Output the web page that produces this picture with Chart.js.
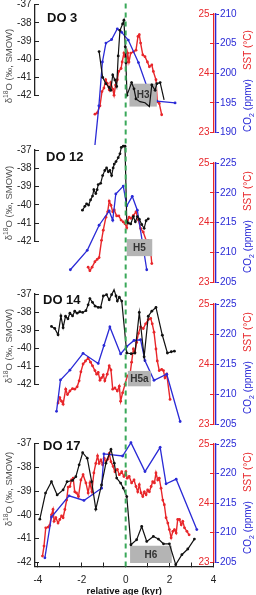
<!DOCTYPE html>
<html>
<head>
<meta charset="UTF-8" />
<title>DO events - d18O, SST, CO2</title>
<script src="https://cdn.jsdelivr.net/npm/chart.js@4.4.9/dist/chart.umd.min.js"></script>
<style>
    body { margin: 0; background: #fff; }
    #wrap { position: relative; width: 256px; height: 595px; overflow: hidden;
            font-family: 'Liberation Sans', Arial, sans-serif; }
    #wrap canvas { position: absolute; left: 0; top: 0; }
    .do { position: absolute; font-size: 13px; font-weight: bold; line-height: 13px; color: #111; }
    .vt { position: absolute; white-space: nowrap; line-height: 1;
          transform: translate(-50%, -50%) rotate(-90deg); }
    .vt sub, .vt sup { font-size: 70%; line-height: 0; }
</style>
</head>
<body>
<div id="wrap"></div>
<script>
    // ---- data (age in kyr relative to DO onset) ----
    const panelNames = ['DO 3', 'DO 12', 'DO 14', 'DO 17'];
    const heinrichLabels = ['H3', 'H5', 'H5a', 'H6'];
    const boxStart = [0.17, 0.05, 0.10, 0.20];
    const boxEnd = [1.42, 1.21, 1.15, 2.10];
    const boxTop = [-41.35, -41.87, -41.25, -41.30];
    const boxBottom = [-42.61, -42.80, -42.10, -42.03];

    const ageTicks = [-4, -3, -2, -1, 0, 1, 2, 3, 4];
    const o18Ticks = [-42, -41, -40, -39, -38, -37];
    const sstTicks = [23, 23.5, 24, 24.5, 25];
    const co2Lo = [190, 205, 205, 205];
    const co2Hi = [210, 225, 225, 225];

    // DO 3
    const ageO18_3 = [-1.21, -1.05, -0.90, -0.75, -0.68, -0.59, -0.49, -0.41, -0.34, -0.26, -0.14, -0.08, -0.02, 0.01, 0.06, 0.27, 0.38, 0.47, 0.65, 0.88, 1.08, 1.19, 1.34, 1.42, 1.57, 1.75];
    const o18_3 = [-39.58, -41.00, -41.35, -41.56, -41.71, -40.87, -41.14, -41.50, -39.82, -38.41, -38.06, -37.85, -39.32, -40.20, -41.98, -41.29, -41.63, -42.19, -42.34, -42.40, -42.61, -41.42, -41.71, -41.35, -41.29, -42.24];
    const ageSst3 = [-1.40, -1.30, -1.17, -1.08, -0.99, -0.91, -0.84, -0.75, -0.68, -0.59, -0.53, -0.46, -0.38, -0.32, -0.21, -0.16, -0.08, -0.02, 0.05, 0.09, 0.15, 0.23, 0.35, 0.47, 0.56, 0.62, 0.68, 0.78, 0.88, 0.99, 1.08, 1.19, 1.26, 1.38, 1.44, 1.53, 1.64];
    const sst3 = [23.31, 23.33, 23.45, 23.69, 23.75, 23.89, 23.83, 23.72, 23.84, 23.73, 23.63, 23.80, 23.89, 24.03, 24.08, 24.19, 24.34, 24.28, 24.19, 24.34, 24.19, 24.34, 24.36, 24.39, 24.62, 24.65, 24.51, 24.31, 24.28, 24.19, 24.11, 24.14, 24.03, 23.89, 23.52, 23.49, 23.30];
    const ageCo2_3 = [-1.40, -1.22, -1.06, -0.90, -0.64, -0.38, -0.18, 0.12, 0.58, 0.99, 1.42, 2.25];
    const co2_3 = [187.9, 194.5, 201.9, 205.1, 205.7, 207.5, 206.9, 205.6, 201.8, 197.5, 195.3, 195.0];

    // DO 12
    const ageO18_12 = [-1.97, -1.86, -1.78, -1.69, -1.60, -1.51, -1.45, -1.36, -1.30, -1.25, -1.14, -1.05, -0.95, -0.87, -0.79, -0.72, -0.64, -0.57, -0.52, -0.44, -0.34, -0.26, -0.20, -0.11, -0.03, 0.05, 0.12, 0.23, 0.35, 0.44, 0.53, 0.62, 0.73, 0.84, 0.93, 1.03];
    const o18_12 = [-40.29, -40.08, -39.94, -40.01, -39.73, -39.52, -39.17, -39.38, -39.17, -38.89, -38.82, -38.40, -38.12, -37.98, -38.19, -38.12, -38.40, -37.98, -37.77, -37.63, -37.42, -37.21, -36.86, -36.79, -36.79, -40.92, -40.99, -41.04, -40.64, -40.92, -40.64, -40.78, -41.07, -41.28, -40.86, -40.76];
    const ageSst12 = [-1.71, -1.63, -1.53, -1.40, -1.30, -1.21, -1.10, -1.02, -0.90, -0.82, -0.75, -0.67, -0.59, -0.52, -0.41, -0.31, -0.21, -0.11, -0.03, 0.05, 0.09, 0.16, 0.24, 0.35, 0.47, 0.58, 0.68, 0.80, 0.93, 1.03, 1.11, 1.19];
    const sst12 = [23.25, 23.19, 23.25, 23.34, 23.38, 23.41, 23.70, 23.87, 24.09, 24.18, 24.36, 24.29, 24.18, 24.21, 24.11, 24.11, 24.04, 24.01, 23.98, 23.91, 24.04, 24.09, 24.07, 24.12, 24.18, 24.04, 23.90, 23.84, 23.70, 23.70, 23.63, 23.31];
    const ageCo2_12 = [-2.52, -1.75, -1.21, -0.75, -0.59, -0.45, -0.11, 0.05, 0.30, 0.53, 0.96];
    const co2_12 = [207.06, 210.32, 214.54, 216.95, 215.38, 219.8, 221.12, 217.8, 219.4, 217.07, 207.06];

    // DO 14
    const ageO18_14 = [-3.38, -3.23, -3.08, -2.95, -2.85, -2.74, -2.63, -2.54, -2.42, -2.32, -2.21, -2.09, -1.96, -1.81, -1.71, -1.63, -1.51, -1.39, -1.25, -1.14, -1.02, -0.87, -0.75, -0.64, -0.53, -0.44, -0.38, -0.29, -0.18, 0.05, 0.25, 0.42, 0.62, 0.84, 1.03, 1.19, 1.38, 1.67, 1.90, 2.08, 2.22];
    const o18_14 = [-38.79, -38.90, -39.25, -38.21, -38.86, -38.23, -38.37, -38.06, -38.21, -37.95, -38.06, -37.98, -38.02, -37.92, -37.60, -37.25, -37.46, -37.67, -37.74, -37.74, -37.11, -37.04, -37.32, -37.04, -36.76, -37.11, -37.39, -37.18, -37.39, -40.26, -40.30, -40.26, -38.02, -40.47, -38.23, -37.95, -37.74, -39.28, -40.26, -40.19, -40.16];
    const ageSst14 = [-3.08, -3.00, -2.92, -2.85, -2.73, -2.65, -2.54, -2.42, -2.32, -2.21, -2.12, -2.04, -1.94, -1.83, -1.71, -1.60, -1.51, -1.40, -1.32, -1.25, -1.17, -1.10, -1.02, -0.95, -0.84, -0.75, -0.67, -0.59, -0.49, -0.38, -0.29, -0.23, -0.14, -0.03, 0.07, 0.20, 0.27, 0.35, 0.42, 0.50, 0.58, 0.68, 0.80, 0.91, 1.03, 1.14, 1.21, 1.29, 1.38, 1.44, 1.53, 1.64, 1.72, 1.79, 1.87, 2.02];
    const sst14 = [23.35, 23.44, 23.38, 23.33, 23.58, 23.49, 23.55, 23.59, 23.58, 23.62, 23.72, 23.87, 24.00, 24.05, 24.10, 24.03, 23.97, 23.89, 23.83, 23.86, 23.73, 23.77, 23.82, 23.72, 23.83, 23.97, 23.90, 23.58, 23.60, 23.55, 23.63, 23.38, 23.52, 23.66, 23.80, 23.83, 24.03, 24.25, 24.19, 24.36, 24.51, 24.62, 24.59, 24.67, 24.74, 24.76, 24.67, 24.53, 24.25, 24.05, 23.89, 23.91, 23.89, 23.77, 23.83, 23.41];
    const ageCo2_14 = [-3.15, -2.97, -2.54, -1.94, -1.25, -0.99, -0.72, -0.23, 0.05, 0.38, 0.68, 0.88, 1.29, 1.87, 2.48];
    const co2_14 = [207.11, 212.34, 213.97, 216.78, 215.09, 218.08, 221.17, 216.68, 217.91, 218.92, 219.04, 215.55, 212.29, 213.30, 205.42];

    // DO 17
    const ageO18_17 = [-3.91, -3.65, -3.38, -3.12, -2.85, -2.67, -2.42, -2.27, -2.12, -1.96, -1.75, -1.55, -1.36, -1.10, -0.90, -0.67, -0.52, -0.41, -0.23, -0.11, 0.05, 0.24, 0.50, 0.73, 0.96, 1.26, 1.49, 1.72, 1.99, 2.28, 2.56, 2.83, 3.13];
    const o18_17 = [-40.18, -39.08, -38.60, -39.16, -38.95, -38.60, -38.55, -38.39, -37.89, -37.38, -37.61, -38.60, -39.76, -38.74, -37.82, -37.24, -37.82, -38.45, -38.66, -38.87, -39.23, -41.26, -41.05, -40.49, -41.12, -40.91, -41.02, -41.22, -41.22, -42.10, -41.68, -41.44, -41.02];
    const ageSst17 = [-3.79, -3.72, -3.64, -3.53, -3.46, -3.38, -3.31, -3.26, -3.18, -3.08, -3.00, -2.92, -2.85, -2.77, -2.69, -2.62, -2.54, -2.47, -2.39, -2.32, -2.24, -2.15, -2.04, -1.94, -1.81, -1.71, -1.63, -1.54, -1.45, -1.36, -1.28, -1.21, -1.13, -1.05, -0.98, -0.90, -0.82, -0.75, -0.67, -0.57, -0.49, -0.38, -0.29, -0.18, -0.08, 0.01, 0.07, 0.16, 0.27, 0.38, 0.47, 0.55, 0.62, 0.70, 0.78, 0.85, 0.93, 1.00, 1.08, 1.16, 1.23, 1.31, 1.38, 1.46, 1.53, 1.61, 1.69, 1.76, 1.84, 1.92, 1.99, 2.07, 2.15, 2.22, 2.30, 2.37, 2.45, 2.53, 2.60, 2.68, 2.79, 2.89];
    const sst17 = [23.10, 23.27, 23.58, 23.59, 23.62, 23.80, 23.89, 23.69, 23.75, 23.66, 23.72, 23.78, 23.75, 23.89, 24.05, 24.27, 24.28, 24.39, 24.42, 24.19, 24.17, 24.11, 24.39, 24.48, 24.34, 24.17, 24.34, 24.19, 24.51, 24.67, 24.80, 24.67, 24.73, 24.65, 24.76, 24.70, 24.74, 24.84, 24.70, 24.62, 24.53, 24.57, 24.48, 24.53, 24.45, 24.53, 24.42, 24.45, 24.34, 24.39, 24.28, 24.19, 24.31, 24.17, 24.11, 24.19, 24.14, 24.22, 24.19, 24.28, 24.36, 24.34, 24.51, 24.39, 24.42, 24.25, 24.05, 23.97, 23.75, 23.66, 23.55, 23.41, 23.52, 23.55, 23.49, 23.72, 23.72, 23.63, 23.69, 23.58, 23.52, 23.46];
    const ageCo2_17 = [-3.68, -3.38, -2.58, -1.90, -1.10, -0.99, -0.14, 0.24, 0.88, 1.57, 1.84, 2.30, 3.24];
    const co2_17 = [205.71, 212.63, 216.22, 215.43, 217.5, 223.31, 222.97, 225.22, 220.32, 224.44, 218.25, 219.04, 210.49];

    // ---- layout (pixels) ----
    const W = 256, H = 595;
    const plotLeft = 35, plotRight = 213.5, axisY = 566.5;
    const sstAxisWidth = 2.5;
    const leftTop = [4.7, 150, 294, 443.7], leftBot = [124, 270, 413, 562.3];
    const rightTop = [14, 163, 304, 444], rightBot = [132.5, 282, 424, 562];
    const titleLeft = [47, 46, 43, 43], titleTop = [11.3, 150.3, 293.3, 439.3];
    const leftTitleY = [66, 203, 346, 489], rightTitleY = [81, 222, 363, 503];
    const AGE_MIN = -4.13, AGE_MAX = 4;

    const BLACK = '#111', RED = '#e8262a', BLUE = '#2a2ad6', GREY = '#b4b4b4', GREEN = '#3aa85a';
    const AXIS = '#222';

    Chart.defaults.font.family = "'Liberation Sans', Arial, sans-serif";
    Chart.defaults.font.size = 10;

    const series = [
        [ageO18_3, o18_3, ageSst3, sst3, ageCo2_3, co2_3],
        [ageO18_12, o18_12, ageSst12, sst12, ageCo2_12, co2_12],
        [ageO18_14, o18_14, ageSst14, sst14, ageCo2_14, co2_14],
        [ageO18_17, o18_17, ageSst17, sst17, ageCo2_17, co2_17]
    ];

    const pts = (xs, ys) => xs.map((x, k) => ({x: x, y: ys[k]}));
    const wrap = document.getElementById('wrap');

    function newCanvas() {
        const c = document.createElement('canvas');
        c.width = W; c.height = H;
        wrap.appendChild(c);
        return c;
    }

    function noPad(s) { s.paddingTop = 0; s.paddingBottom = 0; s.paddingLeft = 0; s.paddingRight = 0; }

    // writes the Heinrich label in the middle of its grey box
    const boxLabelPlugin = {
        id: 'boxLabel',
        afterDatasetsDraw(chart) {
            const ctx = chart.ctx, x = chart.scales.x, y = chart.scales.y;
            chart.data.datasets.forEach(ds => {
                if (!ds.boxLabel) return;
                const px = x.getPixelForValue((ds.data[0].x + ds.data[1].x) / 2);
                const py = y.getPixelForValue(ds.data[0].y);
                ctx.save();
                ctx.font = "bold 10px 'Liberation Sans', Arial, sans-serif";
                ctx.fillStyle = '#333';
                ctx.textAlign = 'center';
                ctx.textBaseline = 'middle';
                ctx.fillText(ds.boxLabel, px, py + 0.5);
                ctx.restore();
            });
        }
    };

    function lineSet(data, color, axisId, width) {
        return {
            data: data, yAxisID: axisId, borderColor: color, backgroundColor: color,
            borderWidth: width, pointRadius: 1.4, pointBorderWidth: 0,
            pointBackgroundColor: color, tension: 0, clip: false
        };
    }

    const baseOpts = {
        responsive: false, animation: false, events: [],
        plugins: {legend: {display: false}, tooltip: {enabled: false}}
    };

    panelNames.forEach((name, i) => {
        const [aO, vO, aS, vS, aC, vC] = series[i];
        const last = i === panelNames.length - 1;

        // ---- right-hand chart: SST and CO2 ----
        new Chart(newCanvas(), {
            type: 'line',
            data: {datasets: [
                lineSet(pts(aC, vC), BLUE, 'yCo2', 1.3),
                lineSet(pts(aS, vS), RED, 'ySst', 1.4)
            ]},
            options: Object.assign({}, baseOpts, {
                layout: {padding: {left: plotLeft, right: 0, top: rightTop[i], bottom: H - rightBot[i]}},
                scales: {
                    x: {type: 'linear', min: AGE_MIN, max: AGE_MAX, display: false},
                    ySst: {
                        position: 'right', min: 23, max: 25,
                        border: {color: RED, width: 1.3},
                        grid: {drawOnChartArea: false, tickLength: -3.5, tickColor: RED, tickWidth: 1},
                        ticks: {mirror: true, padding: -4, color: RED, autoSkip: false,
                                callback: v => Number.isInteger(v) ? v : ''},
                        afterBuildTicks: s => { s.ticks = sstTicks.map(v => ({value: v})); },
                        afterFit: s => { s.width = sstAxisWidth; noPad(s); }
                    },
                    yCo2: {
                        position: 'right', min: co2Lo[i], max: co2Hi[i],
                        border: {color: BLUE, width: 1.3},
                        grid: {drawOnChartArea: false, tickLength: 3, tickColor: BLUE, tickWidth: 1},
                        ticks: {stepSize: 5, padding: 1, color: BLUE, autoSkip: false},
                        afterFit: s => { s.width = W - plotRight - sstAxisWidth; noPad(s); }
                    }
                }
            })
        });

        // ---- left-hand chart: d18O and Heinrich stadial box ----
        const pxPerUnit = (leftBot[i] - leftTop[i]) / 5;
        const yMin = last ? -42 - (axisY - leftBot[i]) / pxPerUnit : -42;
        const mid = (boxTop[i] + boxBottom[i]) / 2;

        new Chart(newCanvas(), {
            type: 'line',
            data: {datasets: [
                Object.assign(lineSet(pts(aO, vO), BLACK, 'y', 1.2), {order: 1}),
                {
                    data: [{x: boxStart[i], y: mid}, {x: boxEnd[i], y: mid}],
                    boxLabel: heinrichLabels[i], order: 5, clip: false,
                    borderColor: GREY, pointRadius: 0, borderCapStyle: 'butt',
                    borderWidth: c => {
                        const s = c.chart.scales.y;
                        return Math.abs(s.getPixelForValue(boxTop[i]) - s.getPixelForValue(boxBottom[i]));
                    }
                }
            ]},
            options: Object.assign({}, baseOpts, {
                layout: {padding: {left: 0, right: W - plotRight, top: leftTop[i], bottom: last ? 0 : H - leftBot[i]}},
                scales: {
                    x: {
                        type: 'linear', min: AGE_MIN, max: AGE_MAX, display: last,
                        border: {color: AXIS, width: 1.3},
                        grid: {drawOnChartArea: false, tickLength: -4, tickColor: AXIS, tickWidth: 1},
                        ticks: {color: AXIS, padding: 11.5, autoSkip: false, maxRotation: 0,
                                callback: v => v % 2 === 0 ? v : ''},
                        afterBuildTicks: s => { s.ticks = ageTicks.map(v => ({value: v})); },
                        title: {display: true, text: 'relative age (kyr)', color: '#111',
                                font: {size: 9.5, weight: 'bold'}, padding: {top: 0, bottom: -2}},
                        afterFit: s => { s.height = H - axisY; noPad(s); }
                    },
                    y: {
                        position: 'left', min: yMin, max: -37,
                        border: {color: AXIS, width: 1.3},
                        grid: {drawOnChartArea: false, tickLength: -4, tickColor: AXIS, tickWidth: 1},
                        ticks: {color: AXIS, padding: 7.5, autoSkip: false},
                        afterBuildTicks: s => { s.ticks = o18Ticks.map(v => ({value: v})); },
                        afterFit: s => { s.width = plotLeft; noPad(s); }
                    }
                }
            }),
            plugins: [boxLabelPlugin]
        });

        // ---- text: panel name and axis titles ----
        const t = document.createElement('div');
        t.className = 'do';
        t.style.left = titleLeft[i] + 'px';
        t.style.top = titleTop[i] + 'px';
        t.textContent = name;
        wrap.appendChild(t);

        const lt = document.createElement('div');
        lt.className = 'vt';
        lt.style.cssText = 'left:8.5px;top:' + leftTitleY[i] + 'px;font-size:9.5px;color:#555;';
        lt.innerHTML = '&delta;<sup>18</sup>O (&permil;, SMOW)';
        wrap.appendChild(lt);

        const rt = document.createElement('div');
        rt.className = 'vt';
        rt.style.cssText = 'left:248px;top:' + rightTitleY[i] + 'px;font-size:10px;';
        rt.innerHTML = '<span style="color:' + BLUE + '">CO<sub>2</sub> (ppmv)</span>' +
            '<span style="display:inline-block;width:9px"></span>' +
            '<span style="color:' + RED + '">SST (&deg;C)</span>';
        wrap.appendChild(rt);
    });

    // ---- green dashed line at the DO onset, across all panels ----
    new Chart(newCanvas(), {
        type: 'line',
        data: {datasets: [{
            data: [{x: 0, y: 0}, {x: 0, y: 1}], borderColor: GREEN, borderWidth: 2,
            borderDash: [5, 4], pointRadius: 0, clip: false
        }]},
        options: Object.assign({}, baseOpts, {
            layout: {padding: {left: plotLeft, right: W - plotRight, top: 0, bottom: H - axisY}},
            scales: {
                x: {type: 'linear', min: AGE_MIN, max: AGE_MAX, display: false},
                y: {min: 0, max: 1, display: false}
            }
        })
    });
</script>
</body>
</html>
